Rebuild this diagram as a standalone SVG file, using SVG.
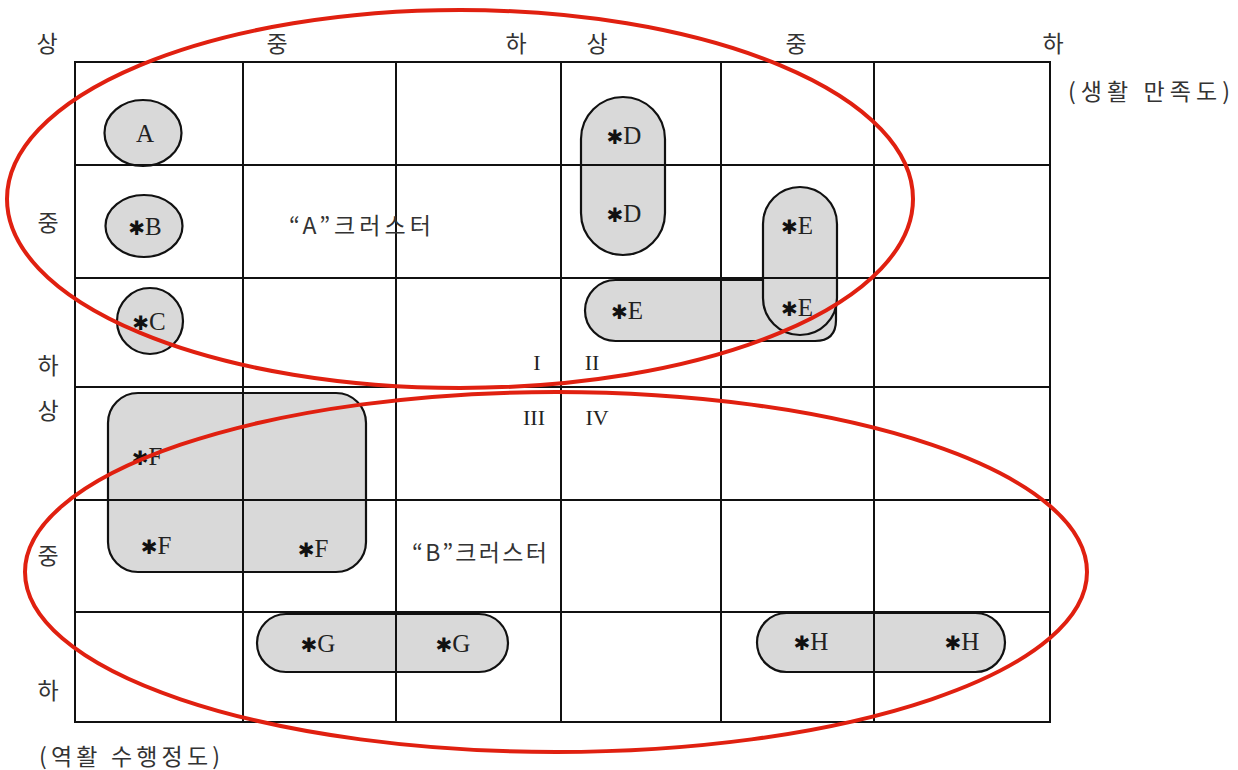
<svg xmlns="http://www.w3.org/2000/svg" width="1238" height="770" viewBox="0 0 1238 770">
<style>
.node{fill:#d9d9d9;stroke:#111;stroke-width:2.2}
.grid line,.grid rect{stroke:#111;stroke-width:2;fill:none}
.lbl{font-family:"Liberation Serif",serif;font-size:25px;fill:#222;text-anchor:middle}
.ast{font-family:"DejaVu Sans",sans-serif;font-size:20px;font-weight:bold;fill:#111}
.ko{font-family:"Noto Sans CJK KR",sans-serif;font-size:23px;fill:#333}
.kc{text-anchor:middle}
.rom{font-family:"Liberation Serif",serif;font-size:22px;fill:#222;text-anchor:middle}
.cluster{fill:none;stroke:#e02010;stroke-width:4}
</style>
<rect width="1238" height="770" fill="#fff"/>

<g id="node-A"><ellipse class="node" cx="143" cy="133" rx="38.5" ry="33"/><text class="lbl" x="145" y="142">A</text></g>
<g id="node-B"><ellipse class="node" cx="144" cy="226" rx="38.5" ry="31"/><text class="lbl" x="145" y="235"><tspan class="ast">✱</tspan>B</text></g>
<g id="node-C"><ellipse class="node" cx="150" cy="321" rx="33" ry="33"/><text class="lbl" x="149" y="330"><tspan class="ast">✱</tspan>C</text></g>
<g id="node-D"><path class="node" d="M581,139 A42 42 0 0 1 665,139 V213 A42 42 0 0 1 581,213 Z"/><text class="lbl" x="624" y="144"><tspan class="ast">✱</tspan>D</text><text class="lbl" x="624" y="222"><tspan class="ast">✱</tspan>D</text></g>
<g id="node-E1"><path class="node" d="M615.5,280 H815 Q836,280 836,300 V320 Q836,341 815,341 H615.5 A30.5 30.5 0 0 1 615.5,280 Z"/><text class="lbl" x="627" y="319"><tspan class="ast">✱</tspan>E</text></g>
<g id="node-E2"><path class="node" d="M763,224 A37 37 0 0 1 837,224 V298 A37 37 0 0 1 763,298 Z"/><text class="lbl" x="797" y="234"><tspan class="ast">✱</tspan>E</text><text class="lbl" x="797" y="316"><tspan class="ast">✱</tspan>E</text></g>
<g id="node-F"><rect class="node" x="108" y="393" width="258" height="179" rx="30" ry="30"/><text class="lbl" x="147" y="465"><tspan class="ast">✱</tspan>F</text><text class="lbl" x="156" y="554"><tspan class="ast">✱</tspan>F</text><text class="lbl" x="313" y="557"><tspan class="ast">✱</tspan>F</text></g>
<g id="node-G"><path class="node" d="M286,614 H479 A29 29 0 0 1 479,672 H286 A29 29 0 0 1 286,614 Z"/><text class="lbl" x="318" y="652"><tspan class="ast">✱</tspan>G</text><text class="lbl" x="453" y="652"><tspan class="ast">✱</tspan>G</text></g>
<g id="node-H"><path class="node" d="M786.5,613 H975.5 A29.5 29.5 0 0 1 975.5,672 H786.5 A29.5 29.5 0 0 1 786.5,613 Z"/><text class="lbl" x="811" y="650"><tspan class="ast">✱</tspan>H</text><text class="lbl" x="962" y="650"><tspan class="ast">✱</tspan>H</text></g>

<g id="grid" class="grid">
<rect x="75" y="62" width="975" height="660"/>
<line x1="243" y1="62" x2="243" y2="722"/>
<line x1="396" y1="62" x2="396" y2="722"/>
<line x1="561" y1="62" x2="561" y2="722"/>
<line x1="721" y1="62" x2="721" y2="722"/>
<line x1="874" y1="62" x2="874" y2="722"/>
<line x1="75" y1="165" x2="1050" y2="165"/>
<line x1="75" y1="278" x2="1050" y2="278"/>
<line x1="75" y1="387" x2="1050" y2="387"/>
<line x1="75" y1="500" x2="1050" y2="500"/>
<line x1="75" y1="612" x2="1050" y2="612"/>
</g>

<g id="axis-labels">
<text class="ko kc" x="47" y="52">상</text>
<text class="ko kc" x="277" y="52">중</text>
<text class="ko kc" x="516" y="52">하</text>
<text class="ko kc" x="597" y="52">상</text>
<text class="ko kc" x="796" y="52">중</text>
<text class="ko kc" x="1053" y="52">하</text>
<text class="ko kc" x="48" y="231">중</text>
<text class="ko kc" x="48" y="374">하</text>
<text class="ko kc" x="48" y="419">상</text>
<text class="ko kc" x="48" y="564">중</text>
<text class="ko kc" x="48" y="699">하</text>
<text class="ko" x="1068" y="100" textLength="162" lengthAdjust="spacing">(생활 만족도)</text>
<text class="ko" x="39" y="765" textLength="181" lengthAdjust="spacing">(역활 수행정도)</text>
<text class="ko" x="289" y="234" textLength="142" lengthAdjust="spacing">“A”크러스터</text>
<text class="ko" x="412" y="561" textLength="135" lengthAdjust="spacing">“B”크러스터</text>
<text class="rom" x="537" y="370">I</text>
<text class="rom" x="592" y="370">II</text>
<text class="rom" x="534" y="425">III</text>
<text class="rom" x="597" y="425">IV</text>
</g>

<g id="clusters">
<ellipse id="cluster-A" class="cluster" cx="460" cy="199" rx="453" ry="189"/>
<ellipse id="cluster-B" class="cluster" cx="556" cy="572" rx="531" ry="180"/>
</g>
</svg>
